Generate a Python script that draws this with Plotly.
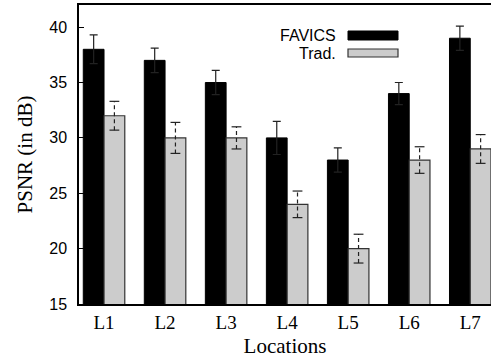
import plotly.graph_objects as go

categories = ["L1", "L2", "L3", "L4", "L5", "L6", "L7"]
favics = [38, 37, 35, 30, 28, 34, 39]
favics_err = [1.3, 1.1, 1.1, 1.5, 1.1, 1.0, 1.1]
trad = [32, 30, 30, 24, 20, 28, 29]
trad_err = [1.3, 1.4, 1.0, 1.2, 1.3, 1.2, 1.3]
y_ticks = [15, 20, 25, 30, 35, 40]

W = 0.34  # bar width in category units
idx = list(range(len(categories)))
x_f = [i - W / 2 for i in idx]
x_t = [i + W / 2 for i in idx]

fig = go.Figure()
fig.add_trace(go.Bar(
    x=x_f, y=favics, width=W, name="FAVICS",
    marker=dict(color="black", line=dict(color="black", width=1)),
    error_y=dict(type="data", array=favics_err, color="#222", thickness=1.2, width=4),
))
fig.add_trace(go.Bar(
    x=x_t, y=trad, width=W, name="Trad.",
    marker=dict(color="#cccccc", line=dict(color="#333333", width=1.2)),
))

# dashed error bars for Trad.
ex, ey = [], []
for xv, v, e in zip(x_t, trad, trad_err):
    ex += [xv, xv, None]
    ey += [v - e, v + e, None]
fig.add_trace(go.Scatter(
    x=ex, y=ey, mode="lines+markers",
    line=dict(color="#222", width=1.2, dash="4px,3px"),
    marker=dict(symbol="line-ew-open", size=7, line=dict(color="#222", width=1.2)),
    hoverinfo="skip", showlegend=False,
))

PL, PR, PT, PB = 79, 491, 5, 304
def px(x):
    return (x - PL) / (PR - PL)
def py(y):
    return (PB - y) / (PB - PT)

# manual legend (text left of swatch)
shapes = [
    dict(type="rect", xref="paper", yref="paper", x0=px(348), x1=px(398), y0=py(40), y1=py(31),
         fillcolor="black", line=dict(color="black", width=1)),
    dict(type="rect", xref="paper", yref="paper", x0=px(348), x1=px(398), y0=py(57), y1=py(49),
         fillcolor="#cccccc", line=dict(color="#333333", width=1.2)),
]
annotations = [
    dict(text="FAVICS", xref="paper", yref="paper", x=px(338), y=py(35.5), xanchor="right", yanchor="middle",
         showarrow=False, font=dict(family="Liberation Sans, Arial", size=16, color="black")),
    dict(text="Trad.", xref="paper", yref="paper", x=px(338), y=py(53), xanchor="right", yanchor="middle",
         showarrow=False, font=dict(family="Liberation Sans, Arial", size=16, color="black")),
]

fig.update_layout(
    width=491, height=358,
    margin=dict(l=PL, r=0, t=PT, b=358 - PB, autoexpand=False),
    paper_bgcolor="white", plot_bgcolor="white",
    showlegend=False, barmode="overlay",
    shapes=shapes, annotations=annotations,
)
fig.update_xaxes(
    range=[-0.41, 6.34], tickvals=idx, ticktext=categories,
    showline=True, linecolor="black", linewidth=1.5, mirror=True,
    ticks="", showgrid=False, zeroline=False,
    tickfont=dict(family="Liberation Serif, Times New Roman", size=19, color="black"),
    title=dict(text="Locations", standoff=8,
               font=dict(family="Liberation Serif, Times New Roman", size=21, color="black")),
)
fig.update_yaxes(
    range=[15, 42], tickvals=y_ticks,
    showline=True, linecolor="black", linewidth=1.5, mirror=False,
    ticks="inside", ticklen=5, tickcolor="black", tickwidth=1,
    ticklabelstandoff=7,
    showgrid=False, zeroline=False,
    tickfont=dict(family="Liberation Sans, Arial", size=16, color="black"),
    title=dict(text="PSNR (in dB)", standoff=11,
               font=dict(family="Liberation Serif, Times New Roman", size=21, color="black")),
)

fig.write_html(
    "out.html",
    config={"displayModeBar": False},
    post_script="document.body.style.margin='0';document.body.style.overflow='hidden';",
)
